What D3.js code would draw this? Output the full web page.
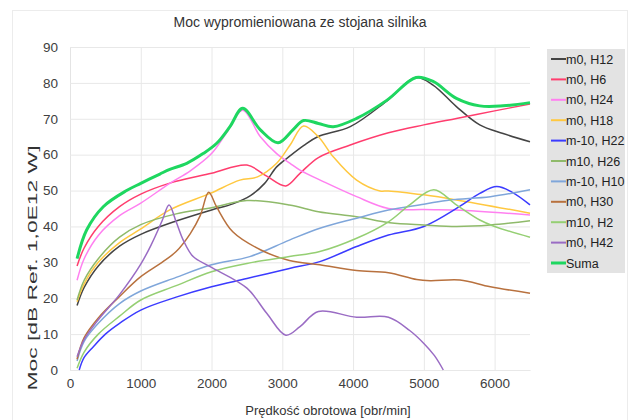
<!DOCTYPE html>
<html>
<head>
<meta charset="utf-8">
<script src="https://cdn.jsdelivr.net/npm/d3@7"></script>
<style>
  body { margin: 0; background: #fff; }
  text { font-family: "Liberation Sans", Arial, sans-serif; }
</style>
</head>
<body>
<div id="chart-area"></div>
<script>
// speed [obr/min] and power [dB] for each harmonic
var h12X = [100,200,400,700,1000,1500,2000,2300,2550,2750,2920,3100,3300,3500,3960,4480,4890,5130,5460,5790,6120,6500];
var h12Y = [18,23,29,34.5,37.8,41.5,44.6,46.3,48.6,52,56.6,59.5,62.5,65,67.8,75,81.5,79.4,73.4,68.3,65.9,63.6];
var h6X = [100,200,400,700,1000,1400,2000,2500,2780,3050,3250,3510,3960,4500,5000,5460,6000,6500];
var h6Y = [29,34,40,45.5,49,52,54.8,57.1,54,51.3,54.8,59.2,62.7,66.1,68.3,70.1,72.2,74.1];
var h24X = [100,200,400,700,1000,1410,1700,2000,2210,2440,2690,2920,3110,3250,3580,4050,4500,5000,5460,6500];
var h24Y = [25,31,37.5,43,46.5,52,55.5,60.3,66,72.4,65,60.3,57.6,55.7,52.5,48.3,45,44.7,44.6,43.2];
var h18X = [100,200,400,700,1000,1410,1980,2400,2650,2920,3110,3300,3510,3720,4050,4380,4500,5000,5460,6500];
var h18Y = [19,24,30,35.5,39.3,44.6,49.2,52.9,53.8,57.6,62.7,68,65,59.4,52.9,49.9,49.9,48.8,47.4,43.7];
var h22X = [130,200,330,500,700,1000,1500,2000,2500,3100,3530,4050,4500,5000,5500,5790,6030,6250,6500];
var h22Y = [0,3.5,6.5,10,13,16.7,20.3,23.2,25.5,28.3,30.2,34.4,37.6,40,45.5,49.2,51.1,49.5,46];
var h26X = [100,200,400,700,1000,1500,2000,2500,3100,3510,4050,4520,5000,5460,5940,6500];
var h26Y = [19.5,25,31,37,40.5,43.5,45.2,47.2,46,44.1,42.7,41,40.4,40,40.4,41.6];
var h10X = [100,200,400,700,1000,1500,2000,2540,3100,3530,4050,4500,5000,5370,5940,6500];
var h10Y = [2.5,8,13,18.5,22,25.8,29.3,31.6,36.2,39.5,42.3,44.6,46.2,47.4,48.3,50.2];
var h30X = [100,200,400,700,1000,1300,1500,1700,1840,1960,2070,2300,2690,3100,3530,4050,4500,4900,5090,5510,5940,6500];
var h30Y = [3,9,14.5,20.5,26,30,33,38,43,49.5,45.5,38.5,33.5,30.5,29.3,27.7,27.1,25.2,24.9,25.1,23.2,21.4];
var h2X = [100,200,400,700,1000,1500,2000,2500,3100,3530,4050,4500,4800,5140,5460,5790,6000,6500];
var h2Y = [0.5,5,10,15,19.5,23.5,27.4,29.7,31.6,33,36.7,41.3,46,50.2,46,41.8,40,37];
var h42X = [100,200,400,700,1000,1150,1300,1400,1500,1600,1740,1980,2500,2780,3050,3250,3510,4050,4500,4800,5000,5150,5275];
var h42Y = [3.7,8.5,14,21,29.5,35,41.5,46,41.3,36.2,31.6,28.8,22.8,15.8,9.7,12.1,16.3,14.7,14.7,11,7.4,4,0];
var sumX = [100,235,470,800,1000,1270,1410,1650,1880,2070,2260,2440,2690,2940,3150,3300,3510,3720,4050,4480,4890,5130,5460,5790,6120,6500];
var sumY = [31,39,45.5,50,52,54.6,55.9,57.6,60.3,63.1,67.8,72.9,66.9,63.3,66.9,69.5,68.7,67.8,70.1,75.2,81.5,80.4,75.7,73.6,73.6,74.5];

var names = ["m0, H12","m0, H6","m0, H24","m0, H18","m-10, H22","m10, H26","m-10, H10","m0, H30","m10, H2","m0, H42","Suma"];
var colors = ["#444444","#ff3d6e","#ff80f0","#ffc840","#3b3bff","#8fba6a","#7fa6da","#b8713e","#95cf73","#9a6cc4","#1ed760"];
var xs = [h12X,h6X,h24X,h18X,h22X,h26X,h10X,h30X,h2X,h42X,sumX];
var ys = [h12Y,h6Y,h24Y,h18Y,h22Y,h26Y,h10Y,h30Y,h2Y,h42Y,sumY];
var xTicks = [0,1000,2000,3000,4000,5000,6000];
var yTicks = [0,10,20,30,40,50,60,70,80,90];

var series = names.map((n, i) => {
  return {name: n, color: colors[i], pts: xs[i].map((v, j) => [v, ys[i][j]])};
});

var W = 630, H = 420;
var mLeft = 70, mRight = 530, mTop = 47, mBottom = 370;

var svg = d3.select("#chart-area").append("svg").attr("width", W).attr("height", H);

// faint outer frame
svg.append("rect").attr("x", 12.5).attr("y", 10.5).attr("width", 615).attr("height", 420)
  .attr("fill", "none").attr("stroke", "#ececec");

var x = d3.scaleLinear().domain([0, 6500]).range([mLeft, mRight]);
var y = d3.scaleLinear().domain([0, 90]).range([mBottom, mTop]);

var gx = svg.append("g").attr("transform", "translate(0," + mBottom + ")")
  .call(d3.axisBottom(x).tickValues(xTicks).tickFormat(d3.format("d"))
    .tickSizeInner(-(mBottom - mTop)).tickSizeOuter(0).tickPadding(8));
var gy = svg.append("g").attr("transform", "translate(" + mLeft + ",0)")
  .call(d3.axisLeft(y).tickValues(yTicks).tickSizeInner(-(mRight - mLeft)).tickSizeOuter(0).tickPadding(12));
[gx, gy].forEach((g) => {
  g.select(".domain").attr("stroke", "#e4e4e4");
  g.selectAll(".tick line").attr("stroke", "#e8e8e8");
  g.selectAll(".tick text").attr("fill", "#404040").style("font-size", "13.5px")
    .style("font-family", "'Liberation Sans', Arial, sans-serif");
});

var line = d3.line().x((d) => x(d[0])).y((d) => y(d[1])).curve(d3.curveCatmullRom.alpha(0.5));

svg.append("g").selectAll("path").data(series).enter().append("path")
  .attr("d", (d) => line(d.pts))
  .attr("fill", "none")
  .attr("stroke", (d) => d.color)
  .attr("stroke-width", (d) => d.name == "Suma" ? 3 : 1.5);

// titles
svg.append("text").attr("x", 300).attr("y", 27).attr("text-anchor", "middle")
  .attr("fill", "#333").style("font-size", "14px").text("Moc wypromieniowana ze stojana silnika");
svg.append("text").attr("x", 328).attr("y", 415).attr("text-anchor", "middle")
  .attr("fill", "#333").style("font-size", "13px").text("Prędkość obrotowa [obr/min]");
svg.append("text").attr("transform", "translate(37,268) rotate(-90)").attr("text-anchor", "middle")
  .attr("fill", "#333").style("font-size", "12.5px")
  .attr("textLength", 245).attr("lengthAdjust", "spacingAndGlyphs")
  .text("Moc [dB Ref. 1,0E12 W]");

// legend
var lg = svg.append("g");
lg.append("rect").attr("x", 547).attr("y", 49).attr("width", 78).attr("height", 224).attr("fill", "#e3e3e3");
var items = lg.selectAll("g").data(series).enter().append("g")
  .attr("transform", (d, i) => "translate(551," + (59 + i * 20.4) + ")");
items.append("line").attr("x1", 0).attr("x2", 15).attr("y1", 0).attr("y2", 0)
  .attr("stroke", (d) => d.color).attr("stroke-width", (d) => d.name == "Suma" ? 3 : 2);
items.append("text").attr("x", 15).attr("y", 4.5).attr("fill", "#222").style("font-size", "12.5px")
  .text((d) => d.name);
</script>
</body>
</html>
